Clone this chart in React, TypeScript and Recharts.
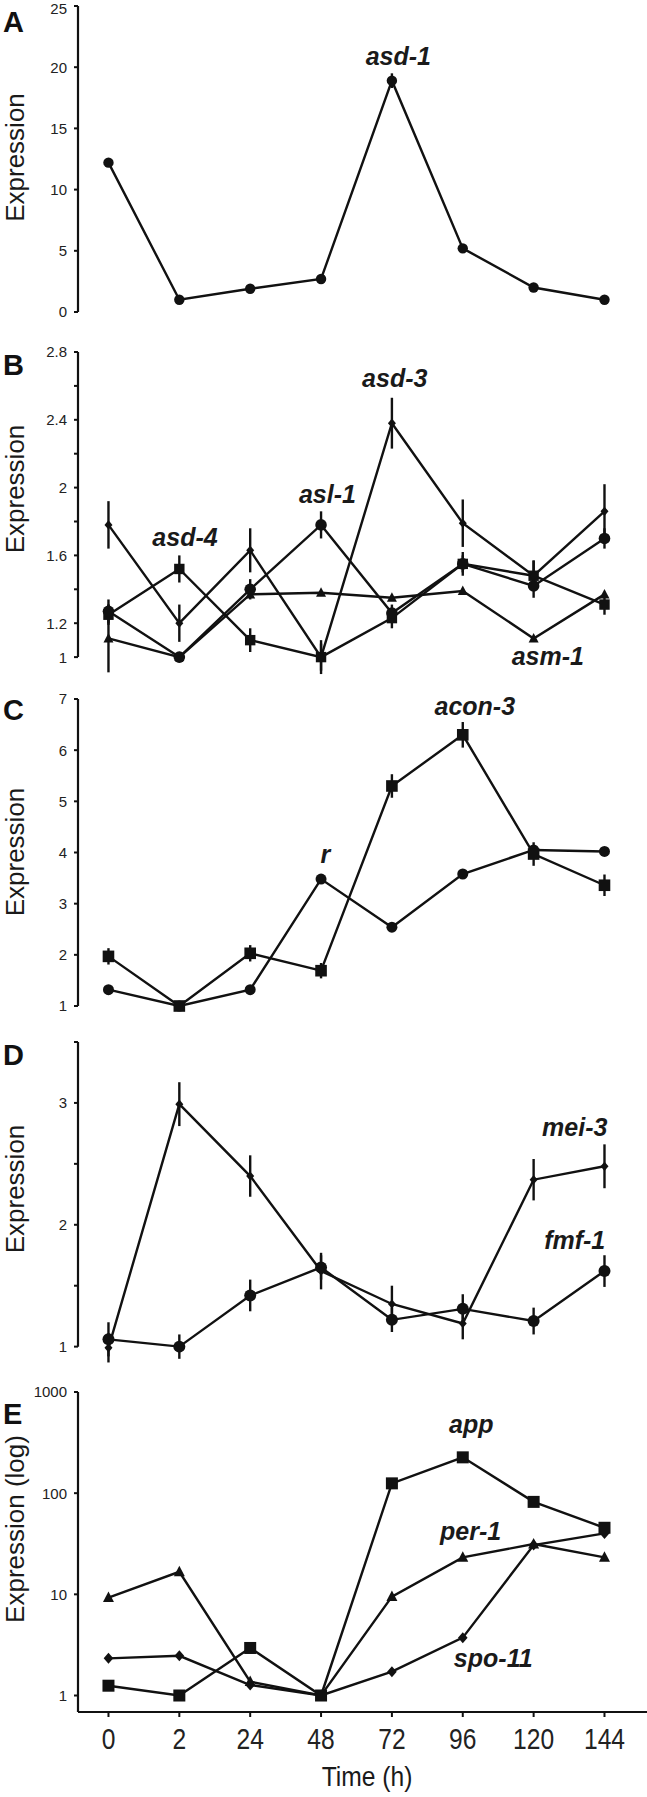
import React from 'react';
import { ComposedChart, Line, Scatter, XAxis, YAxis, ErrorBar, ReferenceLine } from 'recharts';

// ---------- data ----------
const timeLabels = ['0', '2', '24', '48', '72', '96', '120', '144'];
const timeIdx = [0, 1, 2, 3, 4, 5, 6, 7];

// Panel A
const asd1 = [12.2, 1.0, 1.9, 2.7, 18.9, 5.2, 2.0, 1.0];
const asd1Err = [0.3, 0, 0, 0, 0.6, 0, 0, 0];

// Panel B
const asd3 = [1.78, 1.2, 1.63, 1.0, 2.38, 1.79, 1.48, 1.86];
const asd3Err = [0.14, 0.11, 0.13, 0.1, 0.15, 0.14, 0.09, 0.16];
const asd4 = [1.25, 1.52, 1.1, 1.0, 1.23, 1.55, 1.48, 1.31];
const asd4Err = [0.06, 0.08, 0.07, 0.08, 0.06, 0.07, 0.09, 0.06];
const asl1 = [1.27, 1.0, 1.4, 1.78, 1.26, 1.55, 1.42, 1.7];
const asl1Err = [0.07, 0.03, 0.06, 0.08, 0.05, 0.05, 0.07, 0.06];
const asm1 = [1.11, 1.0, 1.37, 1.38, 1.35, 1.39, 1.11, 1.37];
const asm1Err = [0.2, 0, 0, 0, 0, 0, 0, 0];

// Panel C
const acon3 = [1.97, 1.0, 2.03, 1.69, 5.3, 6.3, 3.97, 3.36];
const acon3Err = [0.16, 0, 0.16, 0.15, 0.23, 0.25, 0.23, 0.21];
const rGene = [1.32, 1.0, 1.32, 3.48, 2.54, 3.58, 4.05, 4.02];

// Panel D
const mei3 = [0.99, 2.99, 2.4, 1.62, 1.35, 1.19, 2.37, 2.48];
const mei3Err = [0.12, 0.18, 0.17, 0.15, 0.15, 0.13, 0.17, 0.18];
const fmf1 = [1.06, 1.0, 1.42, 1.65, 1.22, 1.31, 1.21, 1.62];
const fmf1Err = [0.14, 0.1, 0.13, 0.1, 0.1, 0.12, 0.11, 0.13];

// Panel E (log)
const app = [1.25, 1.0, 2.95, 1.0, 125, 226, 82, 45.5];
const per1 = [9.3, 16.7, 1.37, 1.0, 9.5, 23.2, 31.4, 23.2];
const spo11 = [2.33, 2.47, 1.27, 1.0, 1.72, 3.73, 30.7, 40];

// tick values
const ticksA = [0, 5, 10, 15, 20, 25];
const ticksB = [1, 1.2, 1.4, 1.6, 1.8, 2, 2.2, 2.4, 2.6, 2.8];
const ticksBLabeled = [1, 1.2, 1.6, 2, 2.4, 2.8];
const ticksC = [1, 2, 3, 4, 5, 6, 7];
const ticksD = [1, 1.5, 2, 2.5, 3, 3.5];
const ticksDLabeled = [1, 2, 3];
const ticksE = [1, 10, 100, 1000];

// gene labels (position in data coordinates)
const labelsA = [{ i: 4.09, v: 20.2, text: 'asd-1' }];
const labelsB = [
  { i: 4.04, v: 2.594, text: 'asd-3' },
  { i: 3.09, v: 1.91, text: 'asl-1' },
  { i: 1.08, v: 1.655, text: 'asd-4' },
  { i: 6.2, v: 0.955, text: 'asm-1' },
];
const labelsC = [
  { i: 5.17, v: 6.69, text: 'acon-3' },
  { i: 3.06, v: 3.79, text: 'r' },
];
const labelsD = [
  { i: 6.58, v: 2.726, text: 'mei-3' },
  { i: 6.58, v: 1.8, text: 'fmf-1' },
];
const labelsE = [
  { i: 5.12, v: 390, text: 'app' },
  { i: 5.11, v: 34.4, text: 'per-1' },
  { i: 5.43, v: 1.93, text: 'spo-11' },
];

// ---------- styling / helpers ----------
const FONT = '"Liberation Sans", Arial, Helvetica, sans-serif';
const INK = '#111';
const X_DOMAIN: [number, number] = [-0.43, 7.6];
const TICK_FS = 15;

type Shape = 'circle' | 'square' | 'diamond' | 'triangle';

function makeDot(shape: Shape, s: number) {
  return (p: any) => {
    const { cx, cy, index } = p;
    const key = `d${index}`;
    if (cx == null || cy == null || isNaN(cx) || isNaN(cy)) return <g key={key} />;
    if (shape === 'circle') return <circle key={key} cx={cx} cy={cy} r={s} fill={INK} />;
    if (shape === 'square')
      return <rect key={key} x={cx - s} y={cy - s} width={2 * s} height={2 * s} fill={INK} />;
    if (shape === 'diamond')
      return (
        <polygon
          key={key}
          points={`${cx},${cy - s * 1.15} ${cx + s},${cy} ${cx},${cy + s * 1.15} ${cx - s},${cy}`}
          fill={INK}
        />
      );
    return (
      <polygon
        key={key}
        points={`${cx},${cy - s * 1.1} ${cx + s},${cy + s * 0.8} ${cx - s},${cy + s * 0.8}`}
        fill={INK}
      />
    );
  };
}

function makeYTick(labeled: number[] | null, pageTop: number) {
  return (p: any) => {
    const { x, y, payload } = p;
    if (labeled && !labeled.includes(payload.value)) return <g />;
    // keep the label's box inside the page at the very top
    const base = Math.max(y + 0.36 * TICK_FS, 0.93 * TICK_FS - pageTop);
    return (
      <text x={x} y={base} textAnchor="end" fontSize={TICK_FS} fill="#222" fontFamily={FONT}>
        {String(payload.value)}
      </text>
    );
  };
}

const XTick = (p: any) => {
  const { x, y, payload } = p;
  return (
    <g transform={`translate(${x},${y})`}>
      <text
        transform="scale(0.82,1)"
        y={32}
        textAnchor="middle"
        fontSize={30}
        fill="#222"
        fontFamily={FONT}
      >
        {timeLabels[payload.value]}
      </text>
    </g>
  );
};

const LabelShape = (p: any) => {
  const { cx, cy, payload } = p;
  return (
    <text
      x={cx}
      y={cy}
      textAnchor="middle"
      fontSize={25}
      fontWeight="bold"
      fontStyle="italic"
      fill="#1a1a1a"
      fontFamily={FONT}
    >
      {payload.text}
    </text>
  );
};

type SeriesSpec = { values: number[]; errs?: number[]; shape: Shape; size: number };

const rows = (values: number[], errs?: number[]) =>
  values.map((v, k) => ({ i: timeIdx[k], v, e: errs ? errs[k] : 0 }));

type PanelProps = {
  top: number;
  height: number;
  mTop: number;
  mBottom: number;
  domain: [number, number];
  axisSpan: [number, number];
  log?: boolean;
  ticks: number[];
  labeled: number[] | null;
  series: SeriesSpec[];
  labels: { i: number; v: number; text: string }[];
  showX?: boolean;
};

function Panel(props: PanelProps) {
  const { top, height, mTop, mBottom, domain, axisSpan, log, ticks, labeled, series, labels, showX } = props;
  return (
    <div style={{ position: 'absolute', left: 0, top, width: 647, height }}>
      <ComposedChart width={647} height={height} margin={{ top: mTop, right: 0, bottom: mBottom, left: 0 }}>
        {showX ? (
          <XAxis
            type="number"
            dataKey="i"
            domain={X_DOMAIN}
            ticks={timeIdx}
            interval={0}
            height={75}
            tickSize={5}
            tickMargin={0}
            axisLine={{ stroke: INK, strokeWidth: 2.2 }}
            tickLine={{ stroke: INK, strokeWidth: 2 }}
            tick={XTick}
          />
        ) : (
          <XAxis type="number" dataKey="i" domain={X_DOMAIN} hide />
        )}
        <YAxis
          type="number"
          domain={domain}
          scale={log ? 'log' : 'auto'}
          ticks={ticks}
          interval={0}
          width={78}
          axisLine={false}
          tickLine={{ stroke: INK, strokeWidth: 2 }}
          tickSize={4}
          tickMargin={7}
          tick={makeYTick(labeled, top)}
        />
        <ReferenceLine
          segment={[
            { x: X_DOMAIN[0], y: axisSpan[0] },
            { x: X_DOMAIN[0], y: axisSpan[1] },
          ]}
          stroke={INK}
          strokeWidth={2.2}
          ifOverflow="visible"
        />
        {series.map((s, k) => (
          <Line
            key={k}
            data={rows(s.values, s.errs)}
            dataKey="v"
            stroke={INK}
            strokeWidth={2.4}
            dot={makeDot(s.shape, s.size)}
            activeDot={false}
            isAnimationActive={false}
          >
            {s.errs ? (
              <ErrorBar dataKey="e" direction="y" width={0} stroke={INK} strokeWidth={2.4} />
            ) : null}
          </Line>
        ))}
        <Scatter data={labels} dataKey="v" shape={LabelShape} isAnimationActive={false} />
      </ComposedChart>
    </div>
  );
}

const letters = [
  { t: 'A', y: 32 },
  { t: 'B', y: 375 },
  { t: 'C', y: 720 },
  { t: 'D', y: 1065 },
  { t: 'E', y: 1424 },
];
const yTitles = [
  { t: 'Expression', y: 157.5 },
  { t: 'Expression', y: 489 },
  { t: 'Expression', y: 852 },
  { t: 'Expression', y: 1189 },
  { t: 'Expression (log)', y: 1529 },
];

export default function App() {
  return (
    <div
      style={{
        position: 'absolute',
        left: 0,
        top: 0,
        width: 647,
        height: 1797,
        background: '#fff',
        overflow: 'hidden',
        fontFamily: FONT,
      }}
    >
      <Panel
        top={0}
        height={335}
        mTop={6}
        mBottom={23}
        domain={[0, 25]}
        axisSpan={[0, 25]}
        ticks={ticksA}
        labeled={null}
        series={[{ values: asd1, errs: asd1Err, shape: 'circle', size: 5.2 }]}
        labels={labelsA}
      />
      <Panel
        top={330}
        height={370}
        mTop={22}
        mBottom={9}
        domain={[0.8, 2.8]}
        axisSpan={[1, 2.8]}
        ticks={ticksB}
        labeled={ticksBLabeled}
        series={[
          { values: asm1, errs: asm1Err, shape: 'triangle', size: 5 },
          { values: asd4, errs: asd4Err, shape: 'square', size: 5.2 },
          { values: asl1, errs: asl1Err, shape: 'circle', size: 5.8 },
          { values: asd3, errs: asd3Err, shape: 'diamond', size: 4 },
        ]}
        labels={labelsB}
      />
      <Panel
        top={680}
        height={350}
        mTop={19}
        mBottom={24}
        domain={[1, 7]}
        axisSpan={[1, 7]}
        ticks={ticksC}
        labeled={null}
        series={[
          { values: rGene, shape: 'circle', size: 5.5 },
          { values: acon3, errs: acon3Err, shape: 'square', size: 5.8 },
        ]}
        labels={labelsC}
      />
      <Panel
        top={1025}
        height={360}
        mTop={17}
        mBottom={14}
        domain={[0.8, 3.5]}
        axisSpan={[1, 3.5]}
        ticks={ticksD}
        labeled={ticksDLabeled}
        series={[
          { values: fmf1, errs: fmf1Err, shape: 'circle', size: 6 },
          { values: mei3, errs: mei3Err, shape: 'diamond', size: 4 },
        ]}
        labels={labelsD}
      />
      <Panel
        top={1370}
        height={417}
        mTop={22}
        mBottom={0}
        domain={[0.687, 1000]}
        axisSpan={[0.687, 1000]}
        log
        ticks={ticksE}
        labeled={null}
        series={[
          { values: spo11, shape: 'diamond', size: 4.8 },
          { values: per1, shape: 'triangle', size: 5.5 },
          { values: app, shape: 'square', size: 6 },
        ]}
        labels={labelsE}
        showX
      />
      <svg
        width={647}
        height={1797}
        style={{ position: 'absolute', left: 0, top: 0, pointerEvents: 'none' }}
      >
        {letters.map((l) => (
          <text key={l.t} x={3} y={l.y} fontSize={29} fontWeight="bold" fill="#111" fontFamily={FONT}>
            {l.t}
          </text>
        ))}
        {yTitles.map((t, k) => (
          <text
            key={k}
            transform={`translate(24,${t.y}) rotate(-90)`}
            textAnchor="middle"
            fontSize={26}
            fill="#1a1a1a"
            fontFamily={FONT}
          >
            {t.t}
          </text>
        ))}
        <text
          transform="translate(367,1786) scale(0.88,1)"
          textAnchor="middle"
          fontSize={28}
          fill="#1a1a1a"
          fontFamily={FONT}
        >
          Time (h)
        </text>
      </svg>
    </div>
  );
}
